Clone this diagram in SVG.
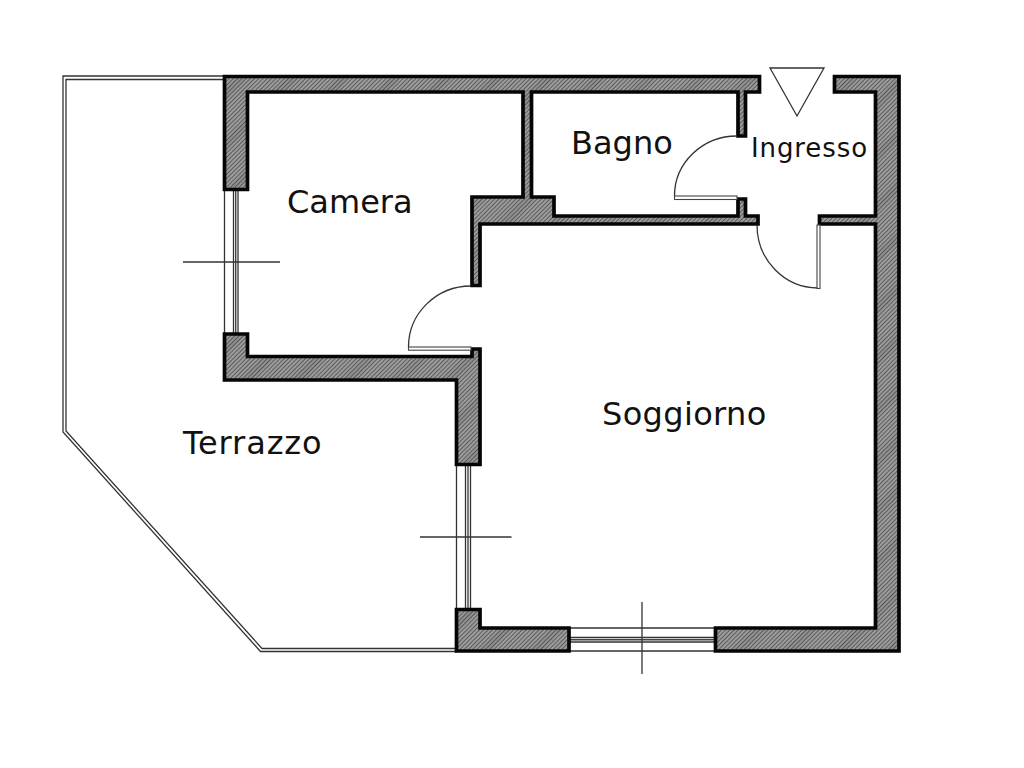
<svg xmlns="http://www.w3.org/2000/svg" width="1024" height="768" viewBox="0 0 1024 768">
<style>
.wall{fill:url(#hatch);stroke:#050505;stroke-width:3.7;stroke-linejoin:miter}
.thin{fill:none;stroke:#333;stroke-width:1.3}
.mid{fill:none;stroke:#444;stroke-width:1.4}
.leaf{fill:#fff;stroke:#444;stroke-width:1.1}
.label{font-family:"DejaVu Sans",sans-serif;fill:#111}
</style>
<defs>
<pattern id="hatch" width="36" height="36" patternUnits="userSpaceOnUse" patternTransform="rotate(-45)">
<rect width="36" height="36" fill="#b2b2b2"/>
<path d="M0 1.5H36M0 4.5H36M0 7.5H36M0 10.5H36M0 13.5H36M0 16.5H36M0 19.5H36M0 22.5H36M0 25.5H36M0 28.5H36M0 31.5H36M0 34.5H36" stroke="#5c5c5c" stroke-width="1.3"/>
<rect y="6" width="36" height="9" fill="#303030" opacity="0.1"/>
</pattern>
</defs>
<rect width="1024" height="768" fill="#fff"/>
<g id="terrazzo-railing" class="thin">
<path d="M223 76H63V432L260.5 651.5H456"/>
<path d="M223 79.5H66V431L262 648.5H456"/>
</g>
<g id="windows">
<g id="window-camera">
<path class="thin" d="M224.5 190V333M233.5 190V333M238 190V333"/>
<path class="mid" d="M235.7 190V333"/>
<path class="thin" d="M183 262H280"/>
</g>
<g id="window-soggiorno-left">
<path class="thin" d="M456.5 466V609M465.5 466V609M470.5 466V609"/>
<path class="mid" d="M468 466V609"/>
<path class="thin" d="M420 537H511.5"/>
</g>
<g id="window-soggiorno-bottom">
<path class="thin" d="M569 628H715M569 637.5H715M569 642H715M569 651H715"/>
<path class="mid" d="M569 639.8H715"/>
<path class="thin" d="M642 602V674"/>
</g>
</g>
<g id="walls">
<path class="wall" d="M224.5 76.5H759.5V92H745.5V136H738V92H531.5V197H554V216H738V199H745.5V216H758V224H480V285.5H472V197H523V92H247.5V189.5H224.5Z"/>
<path class="wall" d="M224.5 334H247.5V356.5H472V349H480V464.5H456.5V380H224.5Z"/>
<path class="wall" d="M456.5 609.5H480V628H569V651H456.5Z"/>
<path class="wall" d="M715.5 628H875.5V224H819.5V216H875.5V92H834.5V76.5H899V651H715.5Z"/>
</g>
<g id="doors">
<g id="door-bagno">
<path class="thin" d="M737 136A62.5 60 0 0 0 674.5 196"/>
<rect class="leaf" x="674.5" y="196" width="62.5" height="3.5"/>
</g>
<g id="door-ingresso">
<path class="thin" d="M757 225A61 63 0 0 0 818 288"/>
<rect class="leaf" x="817" y="225" width="3" height="63.5"/>
</g>
<g id="door-camera">
<path class="thin" d="M471 286A62.5 61 0 0 0 408.5 347"/>
<rect class="leaf" x="408.5" y="347" width="62.5" height="3.2"/>
</g>
</g>
<g id="entrance-marker">
<path class="thin" d="M770 68H824L797 116Z"/>
</g>
<g id="labels">
<text id="label-camera" class="label" x="287" y="213" font-size="32">Camera</text>
<text id="label-bagno" class="label" x="571" y="154" font-size="32">Bagno</text>
<text id="label-ingresso" class="label" x="751" y="157" font-size="26" letter-spacing="0.9">Ingresso</text>
<text id="label-soggiorno" class="label" x="602" y="425" font-size="32" letter-spacing="0.35">Soggiorno</text>
<text id="label-terrazzo" class="label" x="183" y="454" font-size="32" letter-spacing="0.9">Terrazzo</text>
</g>
</svg>
